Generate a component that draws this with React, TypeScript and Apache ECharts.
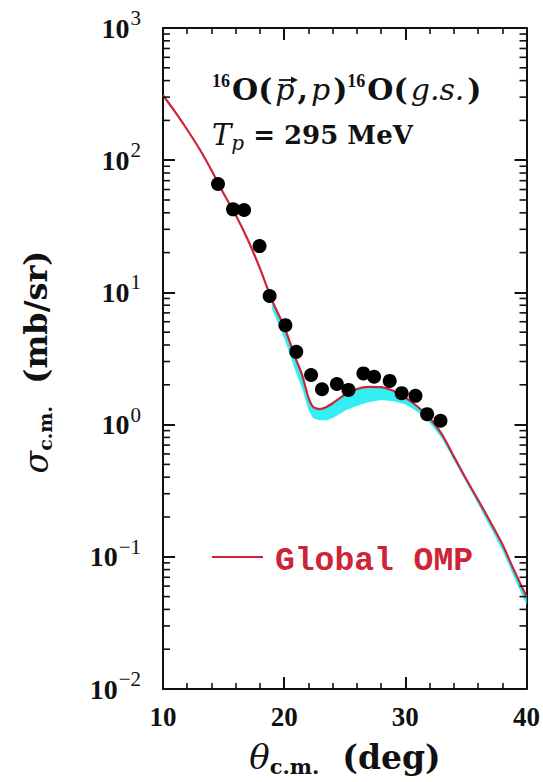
import { useEffect, useRef } from "react";
import * as echarts from "echarts";

// Global optical-model curve: scattering angle (deg) vs cross section (mb/sr)
const thetaCurve = [10, 11, 12, 13, 14, 15, 16, 17, 18, 19, 20, 21, 21.5, 22, 22.4, 22.9, 23.5, 24, 25, 26, 27, 28, 29, 30, 31, 32, 33, 34, 35, 36, 37, 38, 39, 40];
const sigmaCurve = [310, 232, 170, 122, 84, 56, 38.5, 25, 15.2, 8.7, 5.5, 3.08, 2.35, 1.6, 1.36, 1.31, 1.36, 1.45, 1.68, 1.86, 1.93, 1.92, 1.8, 1.6, 1.37, 1.12, 0.85, 0.575, 0.39, 0.27, 0.185, 0.125, 0.078, 0.05];

// Uncertainty band (upper and lower edges)
const bandTheta = [19, 20, 21, 21.5, 22, 22.4, 22.9, 23.5, 24, 25, 26, 27, 28, 29, 30, 31, 32, 33, 34, 35, 36, 37, 38, 39, 40];
const bandUpper = [8.7, 5.5, 3.08, 2.35, 1.6, 1.36, 1.31, 1.36, 1.45, 1.68, 1.86, 1.93, 1.92, 1.8, 1.6, 1.37, 1.12, 0.85, 0.575, 0.39, 0.27, 0.185, 0.125, 0.078, 0.05];
const bandLower = [7.6, 4.5, 2.45, 1.85, 1.3, 1.12, 1.08, 1.08, 1.12, 1.27, 1.38, 1.48, 1.53, 1.5, 1.42, 1.25, 1.03, 0.79, 0.54, 0.37, 0.25, 0.168, 0.112, 0.069, 0.044];

// Measured cross sections
const dataTheta = [14.54, 15.78, 16.69, 17.97, 18.8, 20.1, 21.0, 22.22, 23.12, 24.35, 25.31, 26.54, 27.42, 28.71, 29.7, 30.84, 31.8, 32.9];
const dataSigma = [66, 42.5, 42, 22.4, 9.4, 5.65, 3.55, 2.37, 1.85, 2.03, 1.83, 2.44, 2.3, 2.14, 1.73, 1.65, 1.2, 1.07];

const xTicks = [10, 20, 30, 40];
const yDecades = [-2, -1, 0, 1, 2, 3];
const minorMantissas = [2, 3, 4, 5, 6, 7, 8, 9];

const SERIF = "'Liberation Serif', 'DejaVu Serif', serif";
const WIDE_SERIF = "'DejaVu Serif', 'Liberation Serif', serif";
const MONO = "'Liberation Mono', 'DejaVu Sans Mono', monospace";
const INK = "#111111";
const RED = "#cf2437";
const CYAN = "#33eef2";

function supLabel(exp: number): string {
  const e = exp < 0 ? "\u2212" + String(-exp) : String(exp);
  return `{b|10}{s|${e}}`;
}

export default function App() {
  const ref = useRef<HTMLDivElement>(null);

  useEffect(() => {
    if (!ref.current) return;
    const chart = echarts.init(ref.current, undefined, { renderer: "svg" });

    const minorValues: number[][] = [];
    for (let i = 0; i < yDecades.length - 1; i++) {
      for (const m of minorMantissas) {
        minorValues.push([xTicks[0], m * Math.pow(10, yDecades[i])]);
      }
    }

    const axisLine = { show: true, lineStyle: { color: INK, width: 2 } };
    const majorTick = { show: true, inside: true, length: 12, lineStyle: { color: INK, width: 2 } };
    const xMinor = { show: true, splitNumber: 5, length: 6, lineStyle: { color: INK, width: 1.6 } };

    const option: any = {
      animation: false,
      backgroundColor: "#ffffff",
      grid: { left: 163, right: 15, top: 28, bottom: 93, containLabel: false },
      xAxis: [
        {
          type: "value",
          position: "bottom",
          min: xTicks[0],
          max: xTicks[xTicks.length - 1],
          interval: 10,
          axisLine,
          axisTick: majorTick,
          minorTick: xMinor,
          splitLine: { show: false },
          axisLabel: {
            margin: 14,
            color: INK,
            fontFamily: SERIF,
            fontWeight: "bold",
            fontSize: 27,
          },
        },
        {
          type: "value",
          position: "top",
          min: xTicks[0],
          max: xTicks[xTicks.length - 1],
          interval: 10,
          axisLine,
          axisTick: majorTick,
          minorTick: xMinor,
          splitLine: { show: false },
          axisLabel: { show: false },
        },
      ],
      yAxis: [
        {
          type: "log",
          logBase: 10,
          position: "left",
          min: Math.pow(10, yDecades[0]),
          max: Math.pow(10, yDecades[yDecades.length - 1]),
          splitNumber: 5,
          axisLine,
          axisTick: majorTick,
          splitLine: { show: false },
          axisLabel: {
            margin: 22,
            formatter: (v: number) => supLabel(Math.round(Math.log10(v))),
            rich: {
              b: { fontFamily: SERIF, fontWeight: "bold", fontSize: 28, color: INK },
              s: { fontFamily: SERIF, fontSize: 21, color: INK, padding: [0, 0, 20, 1] },
            },
          },
        },
        {
          type: "log",
          logBase: 10,
          position: "right",
          min: Math.pow(10, yDecades[0]),
          max: Math.pow(10, yDecades[yDecades.length - 1]),
          splitNumber: 5,
          axisLine,
          axisTick: majorTick,
          splitLine: { show: false },
          axisLabel: { show: false },
        },
      ],
      series: [
        {
          type: "custom",
          name: "band",
          silent: true,
          clip: true,
          z: 1,
          encode: { x: 0, y: 1 },
          data: [[bandTheta[0], bandUpper[0]]],
          renderItem: (_params: any, api: any) => {
            const upper = bandTheta.map((t, i) => api.coord([t, bandUpper[i]]));
            const lower = bandTheta.map((t, i) => api.coord([t, bandLower[i]])).reverse();
            return {
              type: "polygon",
              shape: { points: upper.concat(lower), smooth: 0.15 },
              style: { fill: CYAN, stroke: "none" },
            };
          },
        },
        {
          type: "line",
          name: "Global OMP",
          z: 3,
          data: thetaCurve.map((t, i) => [t, sigmaCurve[i]]),
          showSymbol: false,
          symbol: "none",
          smooth: 0.2,
          lineStyle: { color: RED, width: 2.2 },
          itemStyle: { color: RED },
        },
        {
          type: "scatter",
          name: "data",
          z: 4,
          symbol: "circle",
          symbolSize: 14,
          itemStyle: { color: "#000000", opacity: 1 },
          data: dataTheta.map((t, i) => [t, dataSigma[i]]),
        },
        {
          type: "custom",
          name: "minor",
          silent: true,
          z: 5,
          encode: { x: 0, y: 1 },
          data: minorValues,
          renderItem: (_params: any, api: any) => {
            const v = api.value(1);
            const l = api.coord([xTicks[0], v]);
            const r = api.coord([xTicks[xTicks.length - 1], v]);
            const st = { stroke: INK, lineWidth: 1.6 };
            return {
              type: "group",
              children: [
                { type: "line", shape: { x1: l[0], y1: l[1], x2: l[0] + 7, y2: l[1] }, style: st },
                { type: "line", shape: { x1: r[0] - 7, y1: r[1], x2: r[0], y2: r[1] }, style: st },
              ],
            };
          },
        },
      ],
      graphic: [
        // reaction label
        {
          type: "text",
          left: 212,
          top: 72,
          style: {
            text: "{sup|16}{r|O(}{i|p}{r|,}{i|p}{r|)}{sup|16}{r|O(}{i|g.s.}{r|)}",
            rich: {
              sup: { fontFamily: SERIF, fontWeight: "bold", fontSize: 18, fill: INK, padding: [0, 2, 16, 0] },
              r: { fontFamily: WIDE_SERIF, fontWeight: "bold", fontSize: 30, fill: INK },
              i: { fontFamily: WIDE_SERIF, fontStyle: "italic", fontSize: 30, fill: INK, padding: [0, 3, 0, 3] },
            },
          },
        },
        // polarisation arrow over the incoming proton
        {
          type: "line",
          shape: { x1: 279, y1: 80, x2: 294, y2: 80 },
          style: { stroke: INK, lineWidth: 1.8 },
        },
        {
          type: "polygon",
          shape: { points: [[291, 76.5], [298, 80], [291, 83.5]] },
          style: { fill: INK },
        },
        {
          type: "text",
          left: 212,
          top: 120,
          style: {
            text: "{i|T}{sub|p}{r| = 295 MeV}",
            rich: {
              i: { fontFamily: WIDE_SERIF, fontStyle: "italic", fontSize: 29, fill: INK },
              sub: { fontFamily: WIDE_SERIF, fontStyle: "italic", fontSize: 20, fill: INK, padding: [16, 0, 0, 0] },
              r: { fontFamily: WIDE_SERIF, fontWeight: "bold", fontSize: 26, fill: INK },
            },
          },
        },
        // legend
        {
          type: "line",
          shape: { x1: 212, y1: 557, x2: 263, y2: 557 },
          style: { stroke: RED, lineWidth: 2.2 },
        },
        {
          type: "text",
          x: 275,
          y: 561,
          style: {
            text: "Global OMP",
            fontFamily: MONO,
            fontWeight: "bold",
            fontSize: 33,
            fill: RED,
            align: "left",
            verticalAlign: "middle",
            textAlign: "left",
            textVerticalAlign: "middle",
          },
        },
        // axis titles
        {
          type: "text",
          x: 345,
          y: 757,
          style: {
            text: "{i|θ}{sub|c.m.}{r|  (deg)}",
            align: "center",
            verticalAlign: "middle",
            textAlign: "center",
            textVerticalAlign: "middle",
            rich: {
              i: { fontFamily: WIDE_SERIF, fontStyle: "italic", fontSize: 34, fill: INK },
              sub: { fontFamily: WIDE_SERIF, fontWeight: "bold", fontSize: 21, fill: INK, padding: [18, 0, 0, 0] },
              r: { fontFamily: WIDE_SERIF, fontWeight: "bold", fontSize: 33, fill: INK },
            },
          },
        },
        {
          type: "text",
          x: 36,
          y: 362,
          rotation: Math.PI / 2,
          style: {
            text: "{i|σ}{sub|c.m.}{r|  (mb/sr)}",
            align: "center",
            verticalAlign: "middle",
            textAlign: "center",
            textVerticalAlign: "middle",
            rich: {
              i: { fontFamily: WIDE_SERIF, fontStyle: "italic", fontSize: 33, fill: INK },
              sub: { fontFamily: WIDE_SERIF, fontWeight: "bold", fontSize: 19, fill: INK, padding: [18, 0, 0, 0] },
              r: { fontFamily: WIDE_SERIF, fontWeight: "bold", fontSize: 32, fill: INK },
            },
          },
        },
      ],
    };

    chart.setOption(option);
    return () => chart.dispose();
  }, []);

  return (
    <div
      ref={ref}
      style={{ position: "absolute", left: 0, top: 0, width: 543, height: 782, background: "#fff" }}
    />
  );
}
